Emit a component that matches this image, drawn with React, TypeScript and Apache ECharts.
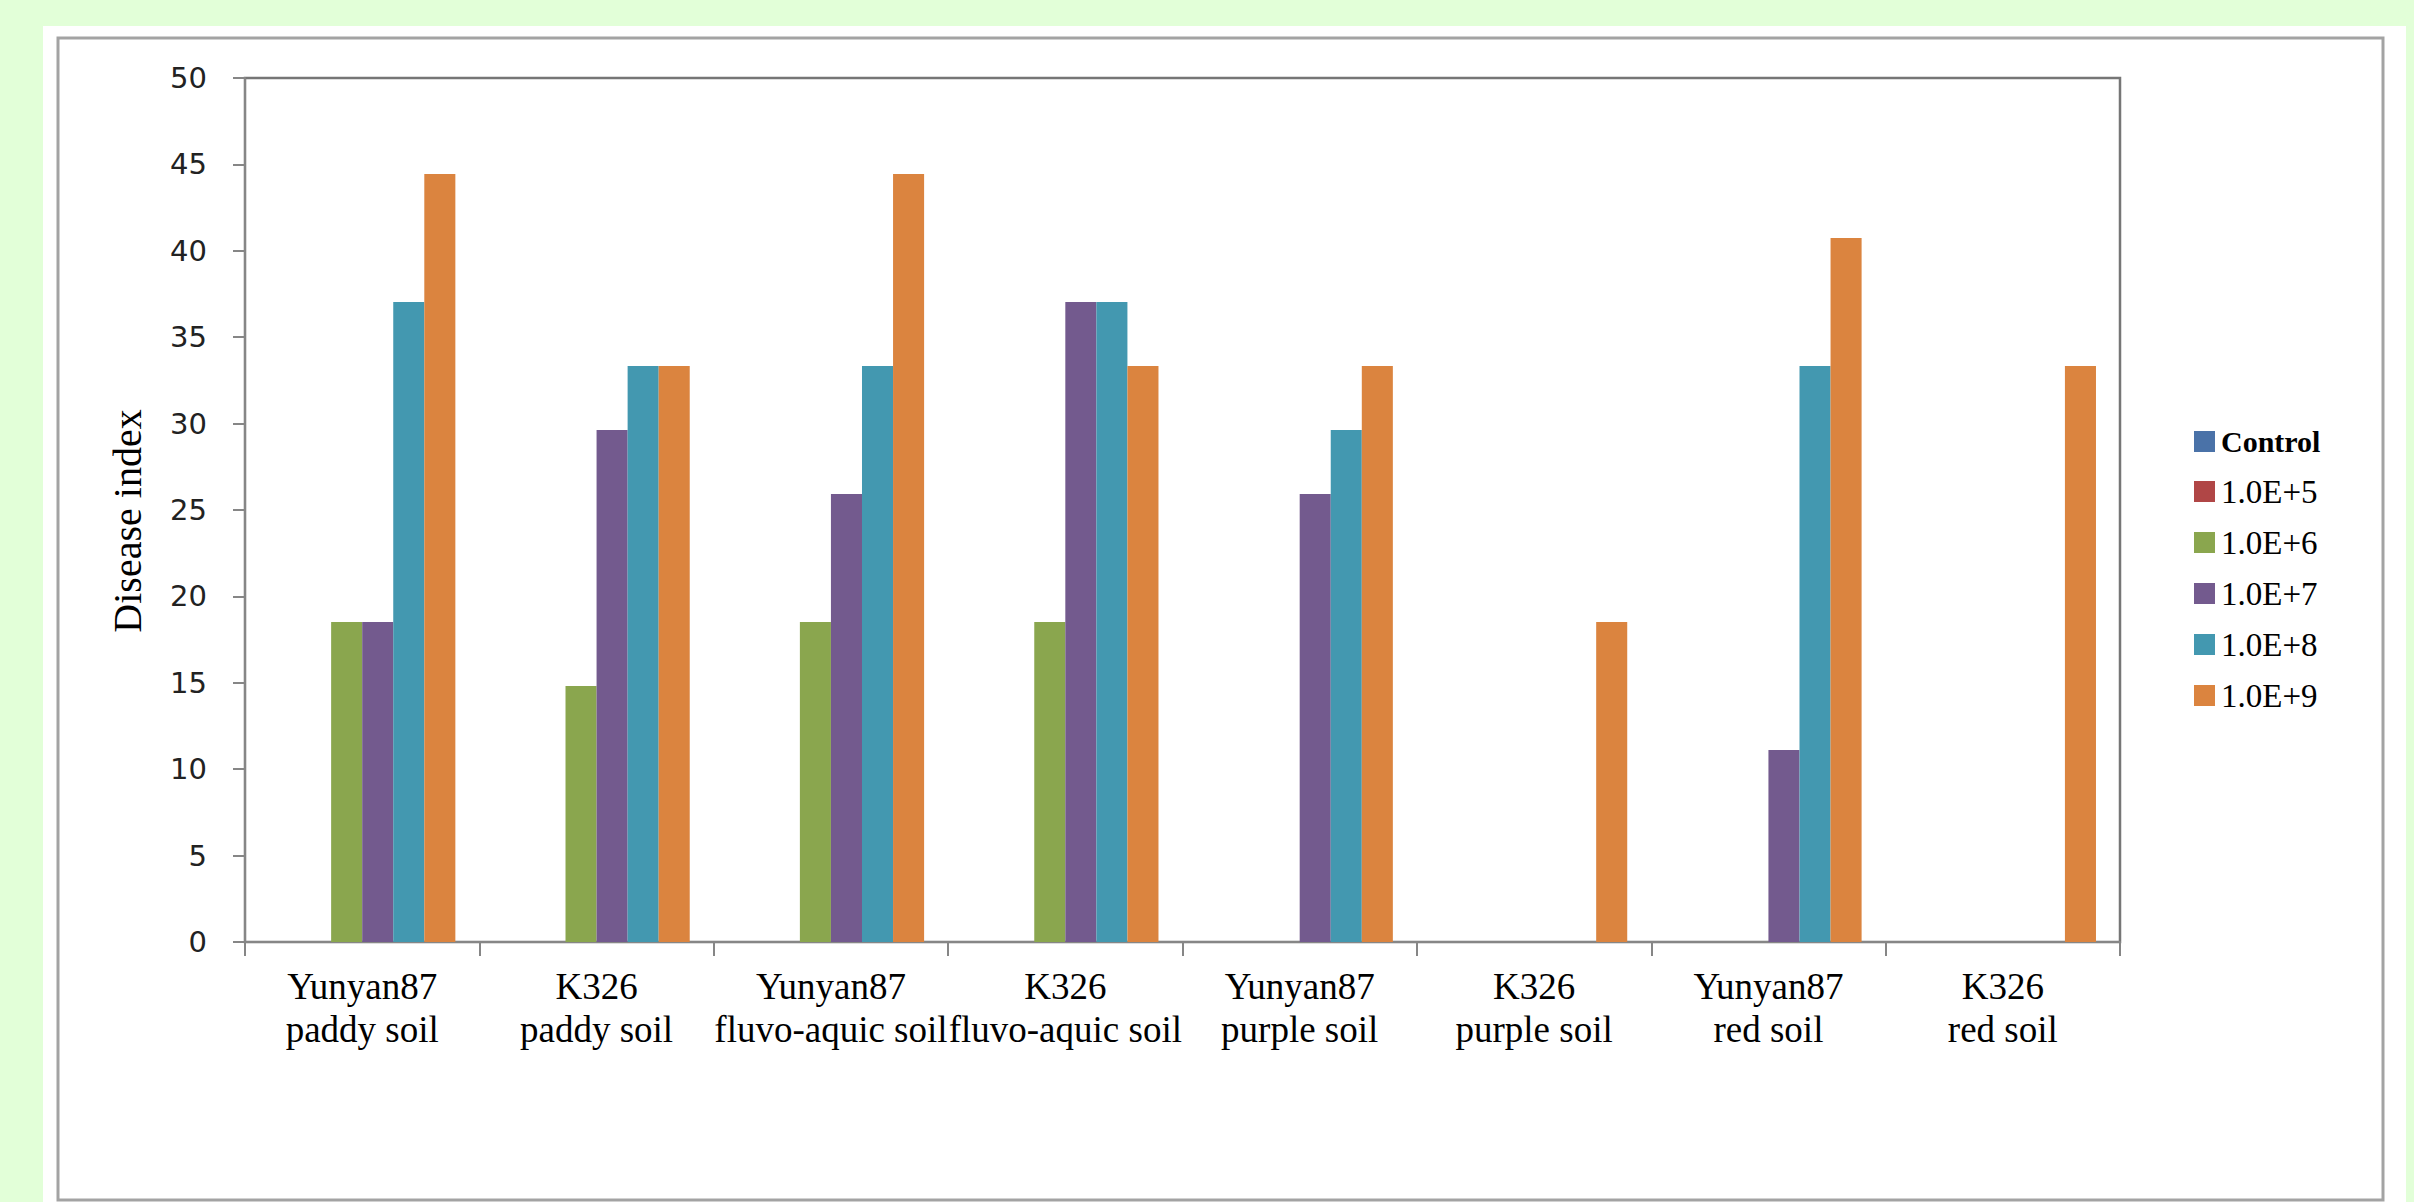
import React, { useEffect, useRef } from "react";
import * as echarts from "echarts";

const categories = [
  "Yunyan87\npaddy soil",
  "K326\npaddy soil",
  "Yunyan87\nfluvo-aquic soil",
  "K326\nfluvo-aquic soil",
  "Yunyan87\npurple soil",
  "K326\npurple soil",
  "Yunyan87\nred soil",
  "K326\nred soil",
];

const seriesNames = ["Control", "1.0E+5", "1.0E+6", "1.0E+7", "1.0E+8", "1.0E+9"];

const controlValues = [0, 0, 0, 0, 0, 0, 0, 0];
const e5Values = [0, 0, 0, 0, 0, 0, 0, 0];
const e6Values = [18.52, 14.81, 18.52, 18.52, 0, 0, 0, 0];
const e7Values = [18.52, 29.63, 25.93, 37.04, 25.93, 0, 11.11, 0];
const e8Values = [37.04, 33.33, 33.33, 37.04, 29.63, 0, 33.33, 0];
const e9Values = [44.44, 33.33, 44.44, 33.33, 33.33, 18.52, 40.74, 33.33];

const seriesValues = [controlValues, e5Values, e6Values, e7Values, e8Values, e9Values];
const seriesColors = ["#4A72A8", "#B04646", "#8AA64E", "#735A8E", "#4398B0", "#DB843F"];

const yMin = 0;
const yMax = 50;
const yInterval = 5;

export default function App() {
  const ref = useRef<HTMLDivElement>(null);

  useEffect(() => {
    if (!ref.current) return;
    const chart = echarts.init(ref.current, null, { renderer: "svg" });
    const option = {
      animation: false,
      backgroundColor: "#E2FFD8",
      graphic: [
        {
          type: "rect",
          z: -10,
          silent: true,
          shape: { x: 43, y: 26, width: 2363, height: 1200 },
          style: { fill: "#FFFFFF" },
        },
        {
          type: "rect",
          z: -9,
          silent: true,
          shape: { x: 58, y: 38, width: 2325, height: 1162 },
          style: { fill: "none", stroke: "#A3A3A3", lineWidth: 3 },
        },
      ],
      grid: {
        left: 245,
        right: 294,
        top: 78,
        bottom: 260,
        show: true,
        borderColor: "#767676",
        borderWidth: 2.5,
        backgroundColor: "#FFFFFF",
      },
      legend: {
        orient: "vertical",
        left: 2189,
        top: 421,
        itemWidth: 21,
        itemHeight: 21,
        itemGap: 18,
        icon: "rect",
        data: seriesNames,
        formatter: (name: string) => (name === "Control" ? `{b|${name}}` : name),
        textStyle: {
          fontFamily: "Liberation Serif",
          fontSize: 33,
          lineHeight: 31,
          color: "#000000",
          padding: [0, 0, 0, 1],
          rich: {
            b: {
              fontFamily: "Liberation Serif",
              fontSize: 30,
              fontWeight: "bold",
              color: "#000000",
            },
          },
        },
      },
      xAxis: {
        type: "category",
        data: categories,
        axisLine: { show: true, lineStyle: { color: "#868686", width: 2 } },
        axisTick: { show: true, length: 14, lineStyle: { color: "#868686", width: 2 } },
        axisLabel: {
          interval: 0,
          margin: 23,
          fontFamily: "Liberation Serif",
          fontSize: 37,
          lineHeight: 43,
          color: "#000000",
        },
        splitLine: { show: false },
      },
      yAxis: {
        type: "value",
        min: yMin,
        max: yMax,
        interval: yInterval,
        name: "Disease index",
        nameLocation: "middle",
        nameGap: 98,
        nameTextStyle: {
          fontFamily: "Liberation Serif",
          fontSize: 40,
          color: "#000000",
          padding: [0, 22, 0, 0],
        },
        axisLine: { show: true, lineStyle: { color: "#868686", width: 2 } },
        axisTick: { show: true, length: 12, lineStyle: { color: "#868686", width: 2 } },
        axisLabel: {
          margin: 38,
          fontFamily: "DejaVu Sans",
          fontSize: 29,
          color: "#222222",
        },
        splitLine: { show: false },
      },
      series: seriesNames.map((name, i) => ({
        name,
        type: "bar",
        data: seriesValues[i],
        barGap: "0%",
        barCategoryGap: "20.5%",
        itemStyle: { color: seriesColors[i] },
      })),
    };
    chart.setOption(option);
    return () => {
      chart.dispose();
    };
  }, []);

  return (
    <div
      ref={ref}
      style={{ position: "fixed", left: 0, top: 0, width: 2414, height: 1202 }}
    />
  );
}
